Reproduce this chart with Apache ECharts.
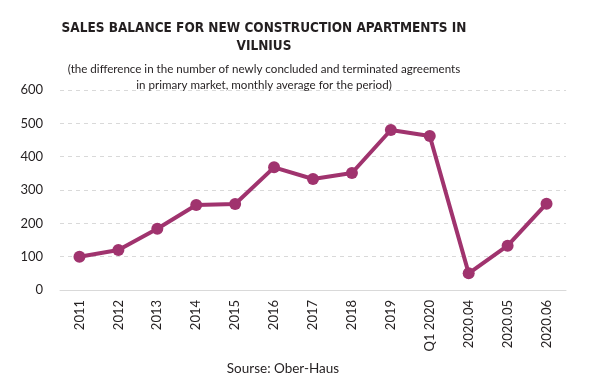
<!DOCTYPE html>
<html><head><meta charset="utf-8">
<script src="https://cdn.jsdelivr.net/npm/echarts@6/dist/echarts.min.js"></script>
<style>html,body{margin:0;padding:0;background:#fff}#c{width:600px;height:384px}</style>
</head><body><div id="c"></div>
<script>
const categories = ['2011','2012','2013','2014','2015','2016','2017','2018','2019','Q1 2020','2020.04','2020.05','2020.06'];
const salesBalance = [100,120,184,255,258,368,333,351,480,462,50,133,259];
const yTicks = {min:0, max:600, interval:100};
const titleText = 'SALES BALANCE FOR NEW CONSTRUCTION APARTMENTS IN\nVILNIUS';
const subtitleText = '(the difference in the number of newly concluded and terminated agreements\nin primary market, monthly average for the period)';
const sourceText = 'Sourse: Ober-Haus';

const chart = echarts.init(document.getElementById('c'), null, {renderer:'canvas'});
chart.setOption({
  animation:false,
  backgroundColor:'#fff',
  title:[{
    text: titleText,
    left:259, textAlign:'center', top:14, itemGap:6,
    textStyle:{fontFamily:'DejaVu Sans Condensed, sans-serif', fontWeight:'bold', fontSize:13.5, color:'#231f20', lineHeight:18},
    subtext: subtitleText,
    subtextStyle:{fontFamily:'Lato, sans-serif', fontSize:11.6, color:'#231f20', lineHeight:16}
  },{
    text: sourceText, left:278, textAlign:'center', top:357,
    textStyle:{fontFamily:'Lato, sans-serif', fontWeight:'normal', fontSize:13.5, color:'#231f20'}
  }],
  grid:{left:60, right:34, top:90, bottom:94, containLabel:false},
  xAxis:{
    type:'category', data:categories, boundaryGap:true,
    axisLine:{lineStyle:{color:'#d9d9d9', width:1}},
    axisTick:{show:false},
    axisLabel:{rotate:90, margin:10, fontFamily:'Lato, sans-serif', fontSize:13, color:'#231f20', interval:0}
  },
  yAxis:{
    type:'value', min:yTicks.min, max:yTicks.max, interval:yTicks.interval,
    axisLine:{show:false}, axisTick:{show:false},
    axisLabel:{margin:17, fontFamily:'Lato, sans-serif', fontSize:13, color:'#231f20'},
    splitLine:{lineStyle:{color:'#d9d9d9', type:[4,4], width:1}}
  },
  series:[{
    type:'line', data:salesBalance,
    lineStyle:{color:'#a0336e', width:4},
    itemStyle:{color:'#a0336e'},
    symbol:'circle', symbolSize:12
  }]
});
</script></body></html>
